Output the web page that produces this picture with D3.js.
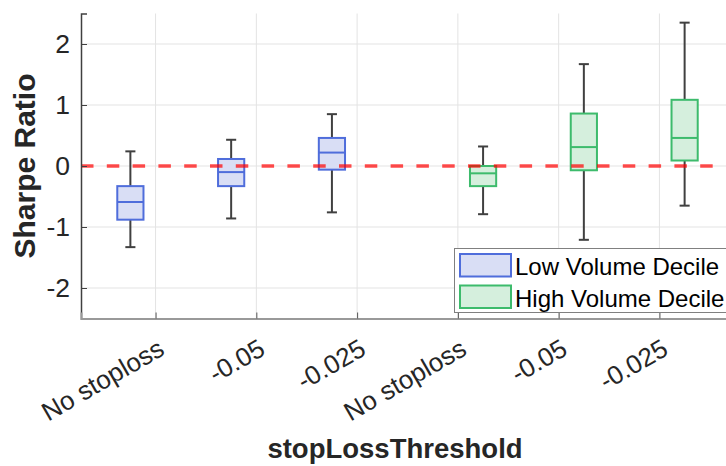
<!DOCTYPE html>
<html>
<head>
<meta charset="utf-8">
<script src="https://cdn.jsdelivr.net/npm/d3@7"></script>
<style>
  html, body { margin: 0; padding: 0; background: #fff; }
  svg { display: block; font-family: "Liberation Sans", Arial, sans-serif; }
</style>
</head>
<body>
<svg id="chart" width="726" height="466"></svg>
<script>
// Sharpe ratio distribution per stop-loss threshold, split by volume decile
const categories = ["No stoploss", "-0.05", "-0.025", "No stoploss", "-0.05", "-0.025"];
const groups = ["Low Volume Decile", "Low Volume Decile", "Low Volume Decile",
                "High Volume Decile", "High Volume Decile", "High Volume Decile"];
const whiskerLow  = [-1.33, -0.86, -0.76, -0.79, -1.21, -0.65];
const q1          = [-0.88, -0.33, -0.06, -0.33, -0.07, 0.09];
const median      = [-0.59, -0.10, 0.22, -0.12, 0.31, 0.46];
const q3          = [-0.33, 0.115, 0.46, 0.0, 0.86, 1.085];
const whiskerHigh = [0.24, 0.43, 0.85, 0.32, 1.67, 2.35];
const yTicks = [-2, -1, 0, 1, 2];
const legendNames = ["Low Volume Decile", "High Volume Decile"];
const referenceLevel = 0;

const svg = d3.select("#chart");
const textColor = "#262626";

const stroke = { "Low Volume Decile": "#4f6ddb", "High Volume Decile": "#3dbb6c" };
const fill   = { "Low Volume Decile": "#d9def5", "High Volume Decile": "#d5efdd" };
const groupOffset = { "Low Volume Decile": -0.25, "High Volume Decile": 0.25 };

const plotLeft = 81, plotRight = 734, plotTop = 13.5, plotBottom = 318.5;
const x = d3.scaleLinear().domain([-0.74, categories.length - 0.26]).range([plotLeft, plotRight]);
const y = d3.scaleLinear().domain([-2.5, 2.5]).range([plotBottom, plotTop]);
const boxW = 0.26;
const capW = 0.1;

// grid
const grid = svg.append("g").attr("stroke", "#e3e3e3").attr("stroke-width", 1);
grid.selectAll("line.h").data(yTicks).join("line")
  .attr("x1", plotLeft).attr("x2", plotRight)
  .attr("y1", d => y(d)).attr("y2", d => y(d));
grid.selectAll("line.v").data(categories.map((_, i) => i)).join("line")
  .attr("x1", d => x(d)).attr("x2", d => x(d))
  .attr("y1", plotTop).attr("y2", plotBottom);

// boxes
const idx = categories.map((_, i) => i);
const boxes = svg.append("g").selectAll("g").data(idx).join("g");
const cx = i => x(i + groupOffset[groups[i]]);

boxes.append("line")
  .attr("x1", cx).attr("x2", cx)
  .attr("y1", i => y(q3[i])).attr("y2", i => y(whiskerHigh[i]))
  .attr("stroke", "#404040").attr("stroke-width", 2);
boxes.append("line")
  .attr("x1", cx).attr("x2", cx)
  .attr("y1", i => y(q1[i])).attr("y2", i => y(whiskerLow[i]))
  .attr("stroke", "#404040").attr("stroke-width", 2);
[whiskerHigh, whiskerLow].forEach(arr => {
  boxes.append("line")
    .attr("x1", i => x(i + groupOffset[groups[i]] - capW / 2))
    .attr("x2", i => x(i + groupOffset[groups[i]] + capW / 2))
    .attr("y1", i => y(arr[i])).attr("y2", i => y(arr[i]))
    .attr("stroke", "#404040").attr("stroke-width", 2);
});
boxes.append("rect")
  .attr("x", i => x(i + groupOffset[groups[i]] - boxW / 2))
  .attr("width", x(boxW) - x(0))
  .attr("y", i => y(q3[i]))
  .attr("height", i => y(q1[i]) - y(q3[i]))
  .attr("fill", i => fill[groups[i]])
  .attr("stroke", i => stroke[groups[i]]).attr("stroke-width", 2);
boxes.append("line")
  .attr("x1", i => x(i + groupOffset[groups[i]] - boxW / 2))
  .attr("x2", i => x(i + groupOffset[groups[i]] + boxW / 2))
  .attr("y1", i => y(median[i])).attr("y2", i => y(median[i]))
  .attr("stroke", i => stroke[groups[i]]).attr("stroke-width", 2);

// zero reference line
svg.append("line")
  .attr("x1", plotLeft).attr("x2", plotRight)
  .attr("y1", y(referenceLevel)).attr("y2", y(referenceLevel))
  .attr("stroke", "#ff0000").attr("stroke-opacity", 0.7)
  .attr("stroke-width", 3.5).attr("stroke-dasharray", "12.5 13.3");

// axes
const yAxis = svg.append("g").attr("transform", `translate(${plotLeft},0)`)
  .call(d3.axisLeft(y).tickValues(yTicks).tickSize(-6).tickPadding(11)
    .tickFormat(d => String(d).replace("\u2212", "-")));
yAxis.select(".domain").attr("stroke", "#404040").attr("stroke-width", 1.5);
yAxis.selectAll(".tick line").attr("stroke", "#404040").attr("stroke-width", 1);
yAxis.selectAll(".tick text").attr("fill", textColor)
  .style("font-size", "26.5px").style("font-family", "Liberation Sans, Arial, sans-serif");

const xAxis = svg.append("g").attr("transform", `translate(0,${plotBottom})`)
  .call(d3.axisBottom(x).tickValues(idx).tickSize(-6).tickFormat(""));
xAxis.select(".domain").attr("stroke", "#999").attr("stroke-width", 2);
xAxis.selectAll(".tick line").attr("stroke", "#555").attr("stroke-width", 1);

svg.append("g").selectAll("text").data(idx).join("text")
  .attr("transform", i => `translate(${x(i) + 1},${plotBottom + 19}) rotate(-30)`)
  .attr("text-anchor", "end")
  .attr("dy", "0.72em")
  .attr("fill", textColor)
  .style("font-size", "26px")
  .text(i => categories[i]);

// axis titles
svg.append("text")
  .attr("transform", `translate(35,166) rotate(-90)`)
  .attr("text-anchor", "middle")
  .attr("fill", textColor)
  .style("font-size", "30px").style("font-weight", "bold")
  .text("Sharpe Ratio");
svg.append("text")
  .attr("x", 395).attr("y", 458)
  .attr("text-anchor", "middle")
  .attr("fill", textColor)
  .style("font-size", "27.5px").style("font-weight", "bold")
  .text("stopLossThreshold");

// legend
const lg = svg.append("g");
lg.append("rect").attr("x", 454.5).attr("y", 248.5).attr("width", 290).attr("height", 64)
  .attr("fill", "#fff").attr("stroke", "#808080").attr("stroke-width", 1);
legendNames.forEach((name, k) => {
  const yy = 254 + k * 31.5;
  lg.append("rect").attr("x", 460).attr("y", yy).attr("width", 51).attr("height", 22.5)
    .attr("fill", fill[name]).attr("stroke", stroke[name]).attr("stroke-width", 2);
  lg.append("text").attr("x", 515).attr("y", yy + 21)
    .attr("fill", "#000").style("font-size", "24px").text(name);
});
</script>
</body>
</html>
